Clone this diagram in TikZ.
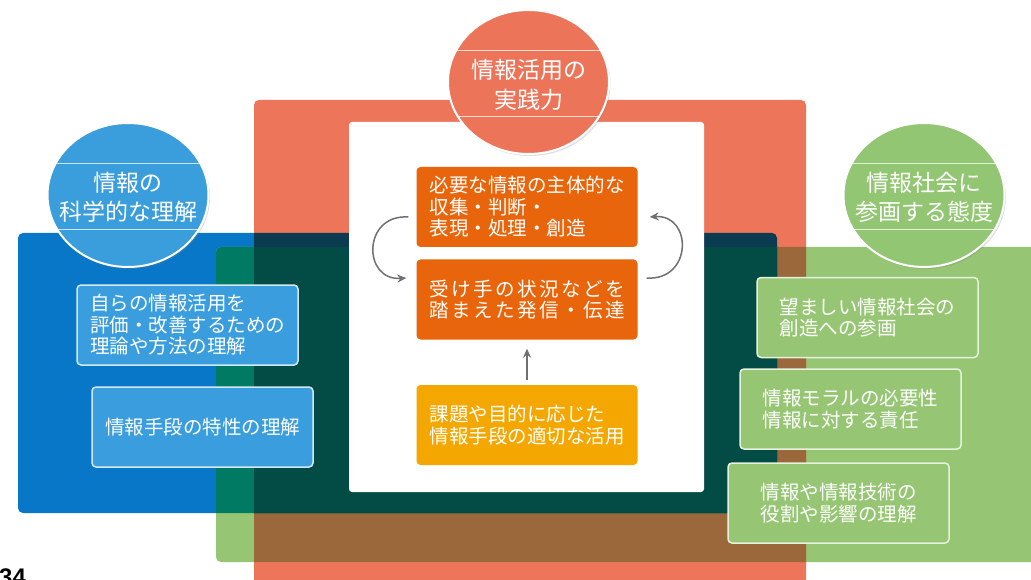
\documentclass[tikz,border=0pt]{standalone}
\usepackage{fontspec}
\setmainfont{Noto Sans CJK JP}
\newfontfamily\numfont{Liberation Sans}
\usetikzlibrary{shapes.geometric,shadows,arrows.meta,calc}
\definecolor{cblue}{HTML}{0877C8}
\definecolor{cgreen}{HTML}{96C673}
\definecolor{cred}{HTML}{ED7559}
\definecolor{cteal}{HTML}{007A62}
\definecolor{cnavy}{HTML}{0A3B51}
\definecolor{cdark}{HTML}{034B45}
\definecolor{cbrown}{HTML}{9B683B}
\definecolor{cboxblue}{HTML}{3A9DDD}
\definecolor{cboxblueline}{HTML}{D2E9F8}
\definecolor{cgreenline}{HTML}{E6F2DC}
\definecolor{corange}{HTML}{E9650C}
\definecolor{cyellow}{HTML}{F3A700}
\definecolor{carrow}{HTML}{707070}
\definecolor{ccircblue}{HTML}{3A9EDC}
\definecolor{ccircred}{HTML}{EC7459}
\definecolor{ccircgreen}{HTML}{93C672}
\tikzset{
  box/.style={rectangle, rounded corners=4pt, minimum width=221pt, minimum height=80pt,
    inner sep=0pt, align=left, text=white, font=\fontsize{19.5}{21.5}\selectfont},
  bluebox/.style={box, fill=cboxblue, draw=cboxblueline, line width=1.5pt},
  greenbox/.style={box, fill=cgreen, draw=cgreenline, line width=1.5pt},
  orangebox/.style={box, fill=corange},
  yellowbox/.style={box, fill=cyellow},
  circline/.style={draw=white, draw opacity=0.75, line width=0.8pt},
  circ/.style={ellipse, minimum width=161pt, minimum height=144pt, inner sep=0pt,
    draw=white, line width=2pt,
    drop shadow={shadow xshift=1.5pt, shadow yshift=-2pt, opacity=0.25},
    path picture={
      \draw[circline] ([yshift=32pt]path picture bounding box.center) ++(-100pt,0pt) -- ++(200pt,0pt);
      \draw[circline] ([yshift=-34pt]path picture bounding box.center) ++(-100pt,0pt) -- ++(200pt,0pt);
    }},
  circtext/.style={align=center, text=white, inner sep=0pt, font=\fontsize{23}{29.5}\selectfont},
  cyc/.style={draw=carrow, line width=1.5pt, -{Stealth[length=9pt,width=8pt]}},
}
\begin{document}
\begin{tikzpicture}[x=1pt,y=-1pt]
\useasboundingbox (0,0) rectangle (1031,580);
\begin{scope}
\clip (0,0) rectangle (1031,580);
% base regions
\fill[cblue, rounded corners=5pt] (18,233) rectangle (777,513);
\fill[cgreen, rounded corners=5pt] (216,247) rectangle (1060,562);
\fill[cred, rounded corners=5pt] (254,100) rectangle (806,620);
% overlaps
\begin{scope}
  \clip[rounded corners=5pt] (216,247) rectangle (1060,562);
  \fill[cbrown, rounded corners=5pt] (254,100) rectangle (806,620);
\end{scope}
\begin{scope}
  \clip[rounded corners=5pt] (18,233) rectangle (777,513);
  \fill[cteal, rounded corners=5pt] (216,247) rectangle (1060,562);
  \fill[cnavy, rounded corners=5pt] (254,100) rectangle (806,620);
  \begin{scope}
    \clip[rounded corners=5pt] (216,247) rectangle (1060,562);
    \fill[cdark, rounded corners=5pt] (254,100) rectangle (806,620);
  \end{scope}
\end{scope}
% white panel
\fill[white, rounded corners=3pt] (349,122) rectangle (704,492);

% circles
\node[circ, fill=ccircblue] (lc) at (128,195) {};
\node[circtext] (lct) at (128,197.5) {情報の\\科学的な理解};
\node[circ, fill=ccircred] (tc) at (528.5,82) {};
\node[circtext] (tct) at (528.5,85) {情報活用の\\実践力};
\node[circ, fill=ccircgreen] (rc) at (924,195) {};
\node[circtext] (rct) at (924,197.5) {情報社会に\\参画する態度};

% left boxes
\node[bluebox] (lb1) at (187.5,325) {自らの情報活用を\\評価・改善するための\\理論や方法の理解};
\node[bluebox] (lb2) at (202.5,427) {情報手段の特性の理解};

% centre boxes
\node[orangebox] (or1) at (527,207) {必要な情報の主体的な\\収集・判断・\\表現・処理・創造};
\node[orangebox] (or2) at (527,299.5) {\hbox to 195pt{受\hfill け\hfill 手\hfill の\hfill 状\hfill 況\hfill な\hfill ど\hfill を}\\\hbox to 195pt{踏\hfill ま\hfill え\hfill た\hfill 発\hfill 信\hfill ・\hfill 伝\hfill 達}};
\node[yellowbox] (yel) at (527,425) {課題や目的に応じた\\情報手段の適切な活用};

% right boxes
\node[greenbox] (rb1) at (867.5,317.5) {望ましい情報社会の\\創造への参画};
\node[greenbox] (rb2) at (850.5,409) {情報モラルの必要性\\情報に対する責任};
\node[greenbox] (rb3) at (838.5,503) {情報や情報技術の\\役割や影響の理解};

% arrows
\draw[cyc] ($(or1.west)+(-8,10)$) .. controls +(-46,-3) and +(-44,3) .. ($(or2.west)+(-10,-21.5)$);
\draw[cyc] ($(or2.east)+(9,-21.5)$) .. controls +(46,3) and +(43,-3) .. ($(or1.east)+(12,10)$);
\draw[cyc, shorten <=5pt, shorten >=9pt] (yel) -- (or2);

% page number
\node[anchor=base west, inner sep=0pt, font=\numfont\bfseries\fontsize{24}{24}\selectfont] (pg) at (-1,585) {34};
\end{scope}
\end{tikzpicture}
\end{document}
